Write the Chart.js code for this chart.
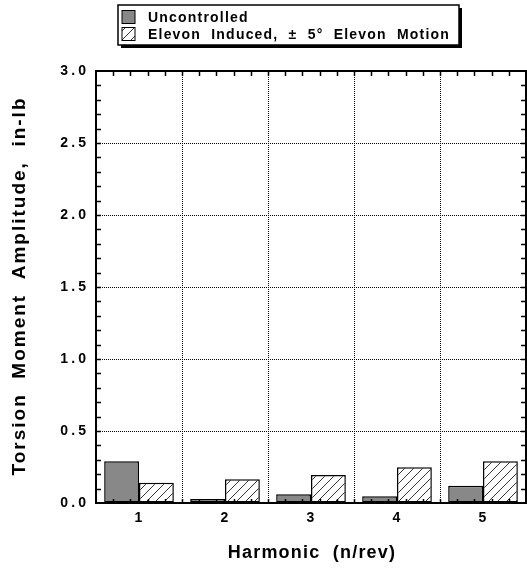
<!DOCTYPE html>
<html>
<head>
<meta charset="utf-8">
<script src="https://cdn.jsdelivr.net/npm/chart.js@4.4.1/dist/chart.umd.min.js"></script>
<style>
html,body{margin:0;padding:0;background:#fff;}
#wrap{position:relative;width:527px;height:569px;}
</style>
</head>
<body>
<div id="wrap"><canvas id="c" width="527" height="569"></canvas></div>
<script>
const categories = ['1', '2', '3', '4', '5'];
const uncontrolled = [0.29, 0.028, 0.06, 0.047, 0.12];
const elevonInduced = [0.14, 0.165, 0.195, 0.248, 0.29];
const seriesLabels = ['Uncontrolled', 'Elevon  Induced,  \u00b1  5\u00b0  Elevon  Motion'];
const yTickValues = [0, 0.5, 1.0, 1.5, 2.0, 2.5, 3.0];
const xTitle = 'Harmonic  (n/rev)';
const yTitle = 'Torsion  Moment  Amplitude,  in-lb';

const FONT = '"Liberation Sans", Arial, Helvetica, sans-serif';

function makeHatch() {
  const s = 9;
  const c = document.createElement('canvas');
  c.width = s; c.height = s;
  const g = c.getContext('2d');
  g.fillStyle = '#fff';
  g.fillRect(0, 0, s, s);
  g.strokeStyle = '#333';
  g.lineWidth = 1;
  g.beginPath();
  g.moveTo(-1, s + 1); g.lineTo(s + 1, -1);
  g.moveTo(-1, 1); g.lineTo(1, -1);
  g.moveTo(s - 1, s + 1); g.lineTo(s + 1, s - 1);
  g.stroke();
  return c;
}
const hatchCanvas = makeHatch();
const ctx0 = document.getElementById('c').getContext('2d');
const hatch = ctx0.createPattern(hatchCanvas, 'repeat');
const GRAY = '#888888';

function drawSpaced(ctx, text, x, y, spacing) {
  ctx.letterSpacing = spacing + 'px';
  ctx.fillText(text, x, y);
  ctx.letterSpacing = '0px';
}

const decorPlugin = {
  id: 'decor',
  beforeDraw(chart) {
    chart.ctx.letterSpacing = '1px';
  },
  afterDraw(chart) {
    const ctx = chart.ctx;
    ctx.save();
    ctx.letterSpacing = '0px';
    const a = chart.chartArea;
    const ys = chart.scales.y;
    // minor ticks on y (left & right)
    ctx.strokeStyle = '#000';
    ctx.lineWidth = 1.5;
    ctx.beginPath();
    for (let i = 1; i < 30; i++) {
      const py = Math.round(ys.getPixelForValue(i / 10)) + 0.5;
      ctx.moveTo(a.left, py); ctx.lineTo(a.left + 5, py);
      ctx.moveTo(a.right, py); ctx.lineTo(a.right - 5, py);
    }
    // minor ticks on x (top & bottom)
    const w = (a.right - a.left) / (categories.length * 5);
    for (let k = 1; k < categories.length * 5; k++) {
      const px = Math.round(a.left + k * w) + 0.5;
      ctx.moveTo(px, a.top); ctx.lineTo(px, a.top + 5);
      ctx.moveTo(px, a.bottom); ctx.lineTo(px, a.bottom - 4);
    }
    ctx.stroke();
    // frame
    ctx.lineWidth = 2;
    ctx.strokeRect(a.left, a.top, a.right - a.left, a.bottom - a.top);

    // axis titles
    ctx.fillStyle = '#000';
    ctx.font = 'bold 18px ' + FONT;
    ctx.textAlign = 'center';
    ctx.textBaseline = 'middle';
    drawSpaced(ctx, xTitle, (a.left + a.right) / 2 + 1, 553, 1.2);
    ctx.save();
    ctx.translate(20, (a.top + a.bottom) / 2);
    ctx.rotate(-Math.PI / 2);
    ctx.font = 'bold 19px ' + FONT;
    drawSpaced(ctx, yTitle, 1, 0, 2.0);
    ctx.restore();

    // legend
    const lx = 118, ly = 5, lw = 341, lh = 40;
    ctx.fillStyle = '#000';
    ctx.fillRect(lx + 3, ly + 3, lw, lh);
    ctx.fillStyle = '#fff';
    ctx.fillRect(lx, ly, lw, lh);
    ctx.lineWidth = 1.5;
    ctx.strokeStyle = '#000';
    ctx.strokeRect(lx, ly, lw, lh);
    const ds = chart.data.datasets;
    const rows = [ly + 12, ly + 29];
    ctx.font = 'bold 14px ' + FONT;
    ctx.textAlign = 'left';
    ctx.textBaseline = 'middle';
    ds.forEach((d, i) => {
      const cy = rows[i];
      ctx.fillStyle = d.backgroundColor;
      ctx.fillRect(122, cy - 6.5, 13, 13);
      ctx.lineWidth = 1;
      ctx.strokeStyle = '#000';
      ctx.strokeRect(122, cy - 6.5, 13, 13);
      ctx.fillStyle = '#000';
      drawSpaced(ctx, d.label, 148, cy + 1, 1.2);
    });
    ctx.restore();
  }
};

new Chart(ctx0, {
  type: 'bar',
  data: {
    labels: categories,
    datasets: [
      { label: seriesLabels[0], data: uncontrolled, backgroundColor: GRAY, borderColor: '#000', borderWidth: 1.5, borderSkipped: false },
      { label: seriesLabels[1], data: elevonInduced, backgroundColor: hatch, borderColor: '#000', borderWidth: 1.5, borderSkipped: false }
    ]
  },
  options: {
    responsive: false,
    animation: false,
    devicePixelRatio: 1,
    layout: { padding: { top: 71, right: 1, left: 0, bottom: 0 } },
    datasets: { bar: { categoryPercentage: 0.81, barPercentage: 1.0 } },
    plugins: { legend: { display: false }, tooltip: { enabled: false }, title: { display: false } },
    scales: {
      x: {
        offset: true,
        grid: { display: true, offset: true, color: '#000', lineWidth: 1, drawTicks: false },
        border: { display: false, dash: [1, 1] },
        ticks: { color: '#000', font: { family: FONT, size: 14, weight: 'bold' }, padding: 7, maxRotation: 0 },
        afterFit(s) { s.height = 66; }
      },
      y: {
        min: 0, max: 3,
        afterBuildTicks(s) { s.ticks = yTickValues.map(v => ({ value: v })); },
        grid: { color: '#000', lineWidth: 1, drawTicks: false },
        border: { display: false, dash: [1, 1] },
        ticks: {
          color: '#000', font: { family: FONT, size: 14, weight: 'bold' }, padding: 9,
          callback: v => Number(v).toFixed(1).split('').join('\u200a')
        },
        afterFit(s) { s.width = 96; }
      }
    }
  },
  plugins: [decorPlugin]
});
</script>
</body>
</html>
